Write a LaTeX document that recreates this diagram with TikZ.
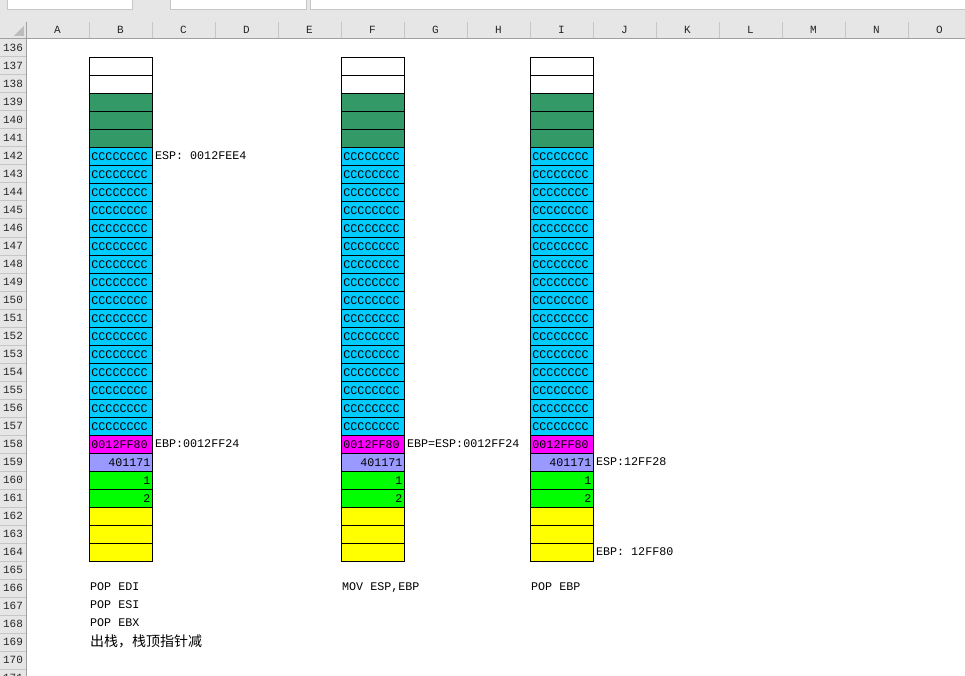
\documentclass[tikz,border=0pt]{standalone}
\usepackage{fontspec}
\setmonofont{Liberation Mono}
\newfontfamily\cjk{Noto Sans CJK SC}
\definecolor{sheet-gray}{HTML}{E6E6E6}
\definecolor{line-gray}{HTML}{C6C6C6}
\definecolor{rule-gray}{HTML}{A0A0A0}
\definecolor{cell-green}{HTML}{339966}
\definecolor{cell-cyan}{HTML}{00CCFF}
\definecolor{cell-pink}{HTML}{FF00FF}
\definecolor{cell-lilac}{HTML}{9999FF}
\definecolor{cell-lime}{HTML}{00FF00}
\definecolor{cell-yellow}{HTML}{FFFF00}

\begin{document}
\begin{tikzpicture}[x=1pt, y=-1pt,
      every node/.style={font=\ttfamily\fontsize{11.7}{13}\selectfont, inner sep=0pt},
      cell/.style={draw=black, line width=0.9pt, anchor=north west,
          text width=59pt, inner xsep=2pt, minimum height=18pt},
      hdr/.style={font=\ttfamily\fontsize{11}{12}\selectfont, text=black!85},
      note/.style={anchor=west, text height=8.5pt, text depth=2.5pt}]
    \clip (0,0) rectangle (965,676);
    % window chrome
    \fill[sheet-gray] (0,0) rectangle (965,38);
    \fill[sheet-gray] (0,38) rectangle (26,676);
    \draw[line-gray, fill=white] (7,-1) rectangle (132,9);
    \draw[line-gray, fill=white] (170,-1) rectangle (306,9);
    \draw[line-gray, fill=white] (310,-1) rectangle (966,9);
    \fill[rule-gray!70] (24,26) -- (24,36) -- (14,36) -- cycle;
    \foreach \i in {0,...,14}
      \draw[line-gray] ({26+63*\i},22) -- ({26+63*\i},38);
    \foreach \l [count=\i from 0] in {A,...,O}
      \node[hdr] (h\l) at ({57.5+63*\i},30) {\l};
    \foreach \r in {136,...,171} {
      \draw[line-gray] (0,{56.7+(\r-137)*18}) -- (26,{56.7+(\r-137)*18});
      \node[hdr] (r\r) at (13,{65.7+(\r-137)*18}) {\r};
    }
    \draw[rule-gray] (0,38) -- (965,38);
    \draw[rule-gray] (26,22) -- (26,676);
    % three stack snapshots
    \foreach \col/\xl in {B/89, F/341, I/530} {
      \foreach \r in {137,138}
        \node[cell, fill=white] (\col\r) at (\xl,{56.7+(\r-137)*18}) {};
      \foreach \r in {139,140,141}
        \node[cell, fill=cell-green] (\col\r) at (\xl,{56.7+(\r-137)*18}) {};
      \foreach \r in {142,...,157}
        \node[cell, fill=cell-cyan, align=left] (\col\r) at (\xl,{56.7+(\r-137)*18}) {CCCCCCCC};
      \node[cell, fill=cell-pink, align=left] (\col158) at (\xl,{56.7+21*18}) {0012FF80};
      \node[cell, fill=cell-lilac, align=right] (\col159) at (\xl,{56.7+22*18}) {401171};
      \node[cell, fill=cell-lime, align=right] (\col160) at (\xl,{56.7+23*18}) {1};
      \node[cell, fill=cell-lime, align=right] (\col161) at (\xl,{56.7+24*18}) {2};
      \foreach \r in {162,163,164}
        \node[cell, fill=cell-yellow] (\col\r) at (\xl,{56.7+(\r-137)*18}) {};
    }
    % register labels
    \node[note] (espB) at ([xshift=2pt]B142.east) {ESP: 0012FEE4};
    \node[note] (ebpB) at ([xshift=2pt]B158.east) {EBP:0012FF24};
    \node[note] (ebpF) at ([xshift=2pt]F158.east) {EBP=ESP:0012FF24};
    \node[note] (espI) at ([xshift=2pt]I159.east) {ESP:12FF28};
    \node[note] (ebpI) at ([xshift=2pt]I164.east) {EBP: 12FF80};
    % instructions
    \node[note] (popedi) at (90,587.7) {POP EDI};
    \node[note] (popesi) at (90,605.7) {POP ESI};
    \node[note] (popebx) at (90,623.7) {POP EBX};
    \node[note, text height=12pt, text depth=2pt,
          font=\cjk\fontsize{14}{16}\selectfont] (pop) at (90,641.7) {出栈，栈顶指针减};
    \node[note] (movesp) at (342,587.7) {MOV ESP,EBP};
    \node[note] (popebp) at (531,587.7) {POP EBP};
  \end{tikzpicture}
\end{document}
